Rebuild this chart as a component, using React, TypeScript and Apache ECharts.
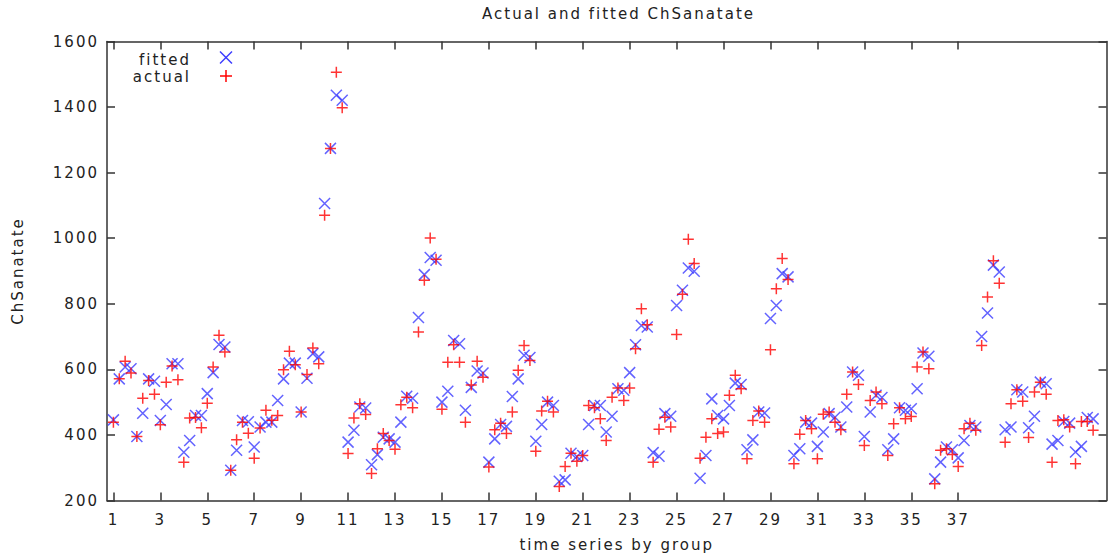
import React, { useEffect, useRef } from "react";
import * as echarts from "echarts";

// Panel layout: 42 groups, 4 periods each, plotted "time series by group"
const periodsPerGroup = 4;

const fitted = [
  446, 571, 607, 602, 395, 466, 571, 564, 444, 493, 617, 617, 347, 383, 459, 459, 526, 590, 676, 668,
  292, 353, 444, 440, 363, 424, 439, 439, 505, 571, 619, 619, 470, 573, 648, 638, 1106, 1274, 1436, 1421,
  378, 414, 485, 482, 309, 340, 393, 388, 378, 439, 518, 512, 758, 889, 941, 933, 500, 533, 688, 678,
  475, 545, 595, 589, 317, 388, 432, 426, 517, 571, 643, 636, 381, 432, 500, 490, 259, 263, 344, 334,
  337, 432, 490, 490, 409, 457, 541, 536, 590, 675, 734, 729, 346, 335, 465, 457, 795, 841, 909, 899,
  268, 337, 510, 459, 449, 490, 558, 554, 355, 385, 470, 467, 755, 795, 892, 882, 337, 358, 439, 436,
  365, 409, 465, 454, 424, 485, 592, 582, 395, 470, 521, 514, 355, 388, 483, 475, 480, 541, 650, 640,
  266, 317, 363, 355, 330, 383, 429, 424, 700, 772, 918, 897, 416, 424, 538, 531, 422, 457, 561, 556,
  372, 383, 441, 436, 348, 365, 453, 449,
];

const actual = [
  439, 571, 625, 589, 395, 512, 566, 524, 431, 561, 610, 568, 317, 452, 453, 422, 497, 607, 704, 653,
  292, 385, 439, 405, 329, 421, 475, 445, 459, 599, 655, 614, 470, 584, 665, 617, 1070, 1274, 1506, 1398,
  343, 452, 495, 462, 282, 358, 404, 383, 356, 492, 515, 483, 714, 872, 1001, 936, 478, 622, 675, 622,
  439, 552, 625, 576, 302, 416, 436, 404, 470, 597, 673, 627, 350, 473, 503, 470, 243, 304, 344, 320,
  337, 490, 483, 449, 383, 515, 543, 505, 543, 663, 785, 736, 317, 417, 454, 424, 706, 829, 997, 923,
  329, 393, 449, 404, 409, 521, 582, 541, 327, 444, 473, 439, 660, 846, 938, 874, 312, 402, 444, 419,
  327, 463, 470, 439, 416, 524, 592, 554, 368, 505, 531, 495, 337, 434, 483, 449, 456, 607, 653, 602,
  251, 353, 358, 340, 304, 419, 436, 414, 673, 821, 931, 863, 378, 495, 538, 503, 392, 531, 561, 524,
  317, 444, 446, 424, 312, 441, 441, 414,
];

const xTickValues = [1, 3, 5, 7, 9, 11, 13, 15, 17, 19, 21, 23, 25, 27, 29, 31, 33, 35, 37];
const yMin = 200;
const yMax = 1600;
const yStep = 200;

const titleText = "Actual and fitted ChSanatate";
const xName = "time series by group";
const yName = "ChSanatate";
const seriesNames = ["fitted", "actual"];

const FONT = "DejaVu Sans";
const TEXT = "#222222";
const AXIS = "#333333";
const BLUE = "#3c3cff";
const RED = "#ff0000";

const toPoints = (vals: number[]) =>
  vals.map((v, i) => [1 + i / periodsPerGroup, v]);

const X_SYMBOL = "path://M0,0L10,10M10,0L0,10";
const PLUS_SYMBOL = "path://M5,0L5,10M0,5L10,5";

export default function App() {
  const ref = useRef<HTMLDivElement>(null);

  useEffect(() => {
    if (!ref.current) return;
    const chart = echarts.init(ref.current, undefined, { renderer: "svg" });

    const axisCommon = {
      axisLine: { show: true, lineStyle: { color: AXIS, width: 1.5 } },
      axisTick: { show: true, inside: true, length: 8, lineStyle: { color: AXIS, width: 1.5 } },
      splitLine: { show: false },
    };

    chart.setOption({
      animation: false,
      backgroundColor: "#ffffff",
      textStyle: { fontFamily: FONT, color: TEXT },
      title: {
        text: titleText,
        left: 482,
        top: 6,
        padding: 0,
        textStyle: { fontFamily: FONT, fontSize: 15, fontWeight: "normal", color: TEXT },
      },
      grid: { left: 107, right: 1.5, top: 41.5, bottom: 57.5, containLabel: false },
      xAxis: [
        {
          type: "value",
          position: "bottom",
          min: 0.727,
          max: 43.32,
          ...axisCommon,
          axisTick: { ...axisCommon.axisTick, customValues: xTickValues },
          axisLabel: {
            show: true,
            customValues: xTickValues,
            margin: 12,
            fontFamily: FONT,
            fontSize: 15,
            color: TEXT,
            formatter: (v: number) => String(v),
          },
          name: xName,
          nameLocation: "middle",
          nameGap: 37,
          nameTextStyle: { fontFamily: FONT, fontSize: 15, color: TEXT, padding: [0, 0, 0, 20] },
        },
        {
          type: "value",
          position: "top",
          min: 0.727,
          max: 43.32,
          ...axisCommon,
          axisTick: { ...axisCommon.axisTick, customValues: xTickValues },
          axisLabel: { show: false },
        },
      ],
      yAxis: [
        {
          type: "value",
          position: "left",
          min: yMin,
          max: yMax,
          interval: yStep,
          ...axisCommon,
          axisLabel: {
            show: true,
            margin: 8,
            fontFamily: FONT,
            fontSize: 15,
            color: TEXT,
            formatter: (v: number) => String(v),
          },
          name: yName,
          nameLocation: "middle",
          nameGap: 82,
          nameRotate: 90,
          nameTextStyle: { fontFamily: FONT, fontSize: 15, color: TEXT },
        },
        {
          type: "value",
          position: "right",
          min: yMin,
          max: yMax,
          interval: yStep,
          ...axisCommon,
          axisLabel: { show: false },
        },
      ],
      series: [
        {
          name: seriesNames[0],
          type: "scatter",
          xAxisIndex: 0,
          yAxisIndex: 0,
          symbol: X_SYMBOL,
          symbolSize: 11,
          itemStyle: { color: "transparent", borderColor: BLUE, borderWidth: 1.5 },
          data: toPoints(fitted),
          z: 2,
        },
        {
          name: seriesNames[1],
          type: "scatter",
          xAxisIndex: 0,
          yAxisIndex: 0,
          symbol: PLUS_SYMBOL,
          symbolSize: 11,
          itemStyle: { color: "transparent", borderColor: RED, borderWidth: 1.5 },
          data: toPoints(actual),
          z: 3,
        },
      ],
      graphic: [
        {
          type: "text",
          x: 191,
          y: 60,
          style: {
            text: seriesNames[0],
            fontFamily: FONT,
            fontSize: 15,
            fill: TEXT,
            textAlign: "right",
            textVerticalAlign: "middle",
          },
        },
        {
          type: "text",
          x: 191,
          y: 76.5,
          style: {
            text: seriesNames[1],
            fontFamily: FONT,
            fontSize: 15,
            fill: TEXT,
            textAlign: "right",
            textVerticalAlign: "middle",
          },
        },
        { type: "line", shape: { x1: 220, y1: 51.5, x2: 232, y2: 63.5 }, style: { stroke: BLUE, lineWidth: 1.5 } },
        { type: "line", shape: { x1: 232, y1: 51.5, x2: 220, y2: 63.5 }, style: { stroke: BLUE, lineWidth: 1.5 } },
        { type: "line", shape: { x1: 220, y1: 76, x2: 232, y2: 76 }, style: { stroke: RED, lineWidth: 1.5 } },
        { type: "line", shape: { x1: 226, y1: 70, x2: 226, y2: 82 }, style: { stroke: RED, lineWidth: 1.5 } },
      ],
    });

    return () => chart.dispose();
  }, []);

  return (
    <>
      <style>{"#chart-box svg text { letter-spacing: 2px; }"}</style>
      <div
        id="chart-box"
        ref={ref}
        style={{ position: "fixed", left: 0, top: 0, width: 1108, height: 558, background: "#fff" }}
      />
    </>
  );
}
